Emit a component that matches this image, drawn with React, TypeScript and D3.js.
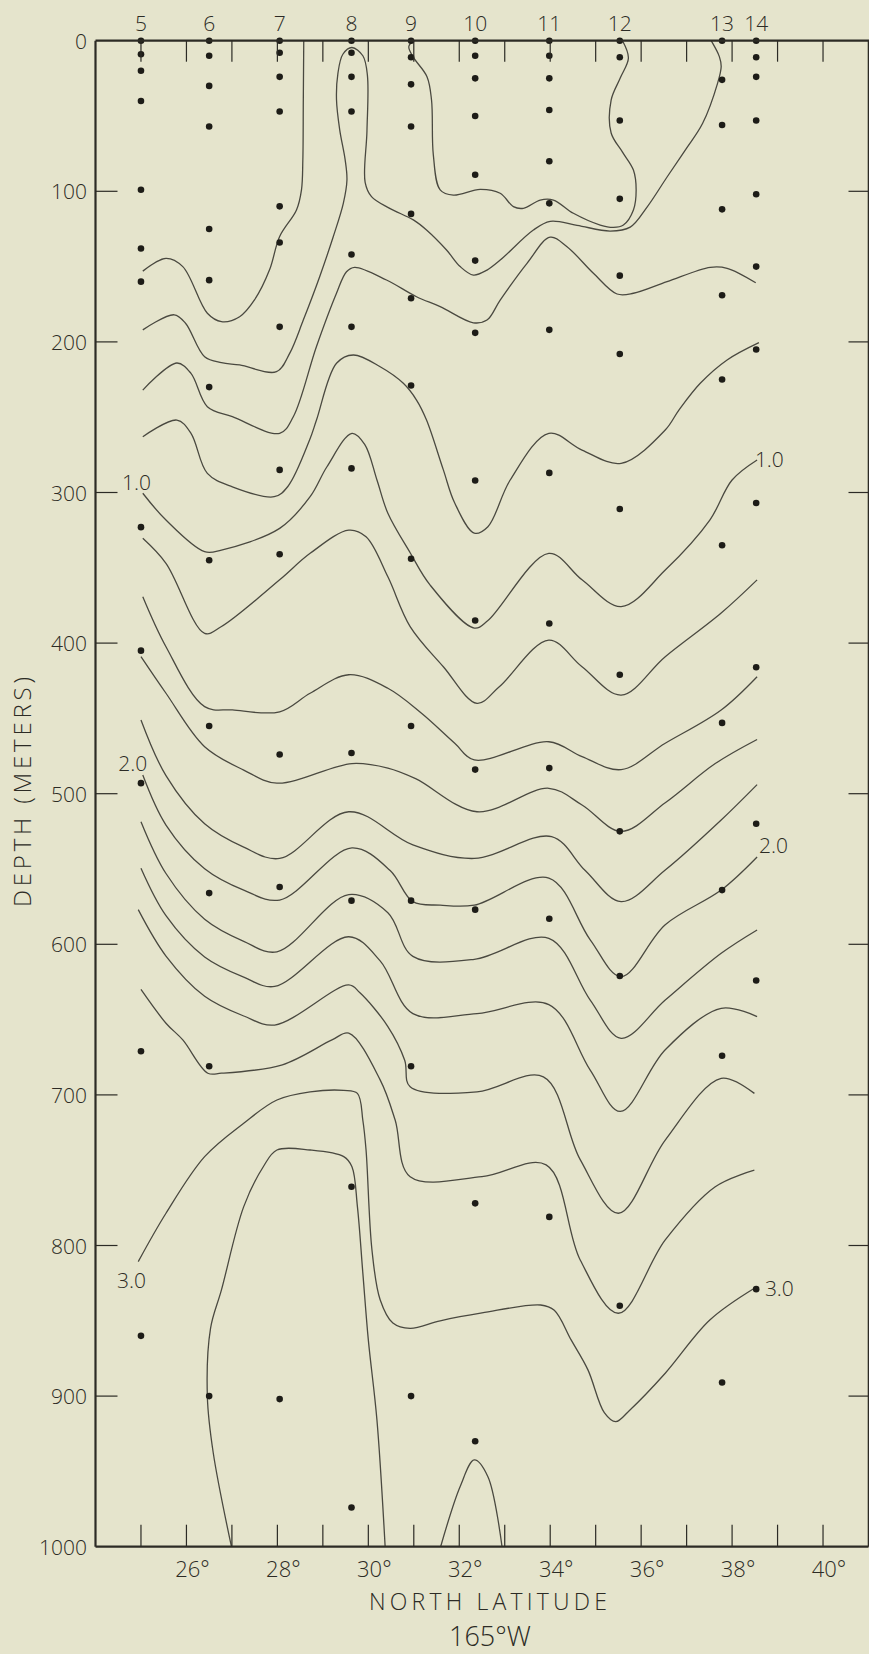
import React from 'react';
import * as d3 from 'd3';

const W = 869;
const H = 1654;

// Station numbers and their latitudes (deg N)
const stationNames = ['5', '6', '7', '8', '9', '10', '11', '12', '13', '14'];
const stationLat = [25.0, 26.5, 28.05, 29.63, 30.94, 32.35, 33.98, 35.53, 37.78, 38.53];
// Sample depths (m) at each station
const sampleDepths: number[][] = [
  [0, 9, 20, 40, 99, 138, 160, 323, 405, 493, 671, 860],
  [0, 10, 30, 57, 125, 159, 230, 345, 455, 566, 681, 900],
  [0, 8, 24, 47, 110, 134, 190, 285, 341, 474, 562, 902],
  [0, 8, 24, 47, 142, 190, 284, 473, 571, 761, 974],
  [0, 11, 29, 57, 115, 171, 229, 344, 455, 571, 681, 900],
  [0, 10, 25, 50, 89, 146, 194, 292, 385, 484, 577, 772, 930],
  [0, 10, 25, 46, 80, 108, 192, 287, 387, 483, 583, 781],
  [0, 11, 53, 105, 156, 208, 311, 421, 525, 621, 840],
  [0, 26, 56, 112, 169, 225, 335, 453, 564, 674, 891],
  [0, 11, 24, 53, 102, 150, 205, 307, 416, 520, 624, 829],
];

const depthTicks = [0, 100, 200, 300, 400, 500, 600, 700, 800, 900, 1000];
const latTicks = [25, 26, 27, 28, 29, 30, 31, 32, 33, 34, 35, 36, 37, 38, 39, 40];
const latLabels = [26, 28, 30, 32, 34, 36, 38, 40];

// Contours: [latitude, depth]
const contourA = [[25.04,153],[25.55,144.5],[25.92,150],[26.46,181],[26.77,186.6],[27.17,183.3],[27.5,172],[27.83,152],[28.05,130],[28.42,112.4],[28.53,99],[28.56,79],[28.57,40],[28.58,0]];
const contourB = [[25.04,192],[25.73,182],[25.98,187.6],[26.4,209.8],[26.77,213.8],[27.17,215.3],[27.98,219.8],[28.27,207.6],[28.57,185.5],[28.93,156.7],[29.23,130],[29.45,108],[29.53,92.5],[29.49,79],[29.37,59],[29.3,39],[29.33,22],[29.44,9],[29.64,4.5],[29.88,10],[29.98,23],[29.97,60],[29.93,94],[30.07,103.5],[30.47,111.3],[30.99,119],[31.28,125.7],[31.72,139],[32.02,150],[32.31,155.6],[32.61,152.3],[32.9,145.7],[33.63,125.7],[34.0,120],[34.59,122.6],[35.32,126.4],[35.76,123.8],[36.13,110.5],[36.57,90.5],[36.97,72.6],[37.35,55],[37.68,28.3],[37.76,17.3],[37.72,10.6],[37.54,0]];
const contourC = [[30.98,0],[30.89,4],[30.98,10.6],[31.29,23.9],[31.39,39.4],[31.43,76],[31.58,99],[31.87,102.5],[32.46,98.7],[32.9,101.3],[33.19,110.2],[33.41,111.3],[33.78,105.8],[34.07,105.8],[34.51,114.6],[35.1,122.4],[35.39,124],[35.61,122.4],[35.83,112.4],[35.89,99],[35.83,85.9],[35.59,74],[35.34,61.3],[35.34,39.4],[35.54,24.8],[35.72,11.5],[35.59,0]];
const contourD = [[25.04,232],[25.79,214],[26.1,220.9],[26.46,243],[27.01,249.6],[28.05,260.7],[28.35,249.7],[28.86,203],[29.3,167.7],[29.52,153.4],[29.7,150.5],[30.4,158.9],[31.06,170],[31.58,176.6],[32.31,187.3],[32.61,185.5],[32.9,172.2],[33.49,147.8],[34.0,130.5],[34.37,136.8],[34.95,154.4],[35.47,168.2],[35.83,167.7],[36.57,160],[37.52,150.5],[37.89,151.1],[38.52,160.7]];
const contourE = [[25.04,263],[25.79,251.9],[26.1,260.7],[26.46,287.3],[27.01,296.2],[27.93,302.8],[28.23,296],[28.71,265],[28.86,251.9],[29.3,214.2],[29.67,208.7],[30.26,216.5],[30.77,227.5],[31.06,238.6],[31.28,251.9],[31.65,285],[31.9,307],[32.33,327],[32.63,322.7],[33.12,291.7],[33.97,260.7],[34.7,271.8],[35.56,280.6],[36.53,258.5],[36.83,245.3],[37.3,227.5],[37.89,212],[38.59,200.5]];
const contourF = [[25.04,300.5],[25.55,318.3],[26.4,339.3],[26.77,338.2],[28.05,323.8],[28.72,302.8],[29.09,282.9],[29.64,260.7],[29.92,268],[30.19,291.7],[30.43,313.8],[30.92,340],[31.36,361.5],[32.33,390],[32.63,385],[33.97,340.4],[34.7,358],[35.56,375.8],[36.53,351.5],[37.51,318.3],[38.0,291.7],[38.55,278.4]];
const contourG = [[25.04,330.4],[25.55,347],[26.4,393.5],[26.77,389],[28.05,358],[28.72,340.4],[29.57,325],[29.95,329.4],[30.43,356],[30.92,389],[31.65,415.7],[32.39,440],[32.88,429],[33.97,398],[34.7,415.7],[35.56,434.5],[36.53,409],[37.76,380],[38.55,358]];
const contourH = [[25.04,369.2],[25.55,402.4],[26.4,442.2],[27.01,444.4],[28.05,445.6],[28.72,433.3],[29.57,421],[30.43,430],[31.17,446.6],[31.9,466.5],[32.33,477.6],[33.97,465.5],[34.7,475.4],[35.56,484],[36.53,466.5],[37.76,444.4],[38.55,422.3]];
const contourI = [[25.0,409],[25.55,433.3],[26.4,468.8],[27.26,484.3],[27.99,493],[29.64,480],[30.43,483],[31.04,490],[32.39,512],[33.97,496.4],[34.7,507.5],[35.56,525],[36.53,506],[37.63,480],[38.55,464]];
const contourJ = [[25.0,451],[25.55,488],[26.4,520],[27.26,535.5],[28.05,543],[29.57,512],[30.98,534],[32.33,543],[34.03,528.5],[34.77,551],[35.56,571.7],[36.53,550.7],[37.76,517.5],[38.55,494]];
const contourK = [[25.04,487.6],[25.55,520.8],[26.4,549.8],[27.26,564],[28.05,570.6],[29.64,536],[30.48,551],[30.98,571.7],[31.58,574],[32.33,574],[33.97,556],[34.88,597],[35.56,621.5],[36.53,587],[37.76,564],[38.55,542]];
const contourL = [[25.0,518.6],[25.55,553],[26.4,583.3],[27.26,598],[27.99,605],[29.57,567],[30.43,579],[30.98,608],[32.33,610],[33.97,596],[34.88,637],[35.56,662.4],[36.53,637],[37.76,606],[38.55,590.5]];
const contourM = [[25.0,549.5],[25.55,581],[26.4,608.4],[27.26,621.8],[27.94,628],[29.57,595],[30.26,611],[30.98,646],[32.39,646],[33.97,640],[34.88,683.5],[35.54,711],[36.53,670],[37.76,642.5],[38.55,648]];
const contourN = [[24.94,577],[25.55,607.8],[26.4,634.5],[27.26,647.6],[27.94,653.6],[29.57,627],[29.81,632],[30.43,654.6],[30.8,677],[30.92,694.6],[32.39,698],[33.85,688],[34.66,743],[35.5,778.6],[36.53,730],[37.76,689],[38.49,699]];
const contourO = [[25.0,630],[25.55,652.4],[25.92,663.5],[26.47,685.6],[26.77,685.6],[28.11,680],[29.2,663.5],[29.57,659],[30.26,690],[30.59,716.7],[30.92,754.3],[32.5,754.3],[33.91,746.5],[34.66,809.6],[35.5,845],[36.53,796.3],[37.63,761],[38.49,750]];
const contourP = [[24.94,810.7],[25.55,778.6],[26.4,741],[27.26,718.8],[27.99,703.4],[28.72,698],[29.46,697],[29.76,699],[29.88,717],[29.95,736.6],[30.08,803],[30.26,836],[30.54,851.5],[30.92,855],[31.58,850],[32.5,844.8],[33.79,839.5],[34.09,843],[34.46,862.7],[34.83,882.6],[35.19,911],[35.44,917],[35.76,909],[36.53,884.8],[37.51,849.5],[38.49,828.4]];
const contourR = [[26.99,1000],[26.59,937.8],[26.46,900.4],[26.53,855],[26.77,829.5],[27.26,774.2],[27.69,747.7],[27.99,736.6],[28.72,736.6],[29.46,741],[29.64,747.7],[29.76,774.2],[29.88,818.5],[30.0,862.7],[30.19,916],[30.37,1000]];
const contourS = [[31.59,1000],[32.02,960],[32.33,942.4],[32.63,953.5],[32.94,1000]];

const contours = [contourA, contourB, contourC, contourD, contourE, contourF, contourG, contourH, contourI, contourJ, contourK, contourL, contourM, contourN, contourO, contourP, contourR, contourS];

const labelTexts = ['1.0', '1.0', '2.0', '2.0', '3.0', '3.0'];
const labelLat = [24.9, 38.82, 24.82, 38.91, 24.79, 39.04];
const labelDepth = [292.7, 277.8, 479.3, 534.1, 822.9, 828.2];

const FONT = "'Open Sans', 'DejaVu Sans', sans-serif";
const INK = '#2c2b25';
const LINE = '#4a4940';

export default function App() {
  const x = d3.scaleLinear().domain([24, 41]).range([95.5, 868.5]);
  const y = d3.scaleLinear().domain([0, 1000]).range([40.7, 1546.7]);
  const line = d3
    .line<number[]>()
    .x((d) => x(d[0]))
    .y((d) => y(d[1]))
    .curve(d3.curveCatmullRom.alpha(0.5));

  const x0 = x(24);
  const x1 = x(41);
  const y0 = y(0);
  const y1 = y(1000);

  return (
    <svg
      width={W}
      height={H}
      style={{ position: 'absolute', left: 0, top: 0, display: 'block', background: '#e5e4cc' }}
    >
      <rect x={0} y={0} width={W} height={H} fill="#e5e4cc" />
      <defs>
        <clipPath id="plotClip">
          <rect x={x0} y={y0} width={x1 - x0} height={y1 - y0} />
        </clipPath>
      </defs>

      {/* contours */}
      <g clipPath="url(#plotClip)" fill="none" stroke={LINE} strokeWidth={1.3}>
        {contours.map((c, i) => (
          <path key={i} d={line(c) || ''} />
        ))}
      </g>

      {/* sample dots */}
      <g fill="#1d1c17">
        {stationLat.map((lat, i) =>
          sampleDepths[i].map((dep, j) => (
            <circle key={`${i}-${j}`} cx={x(lat)} cy={y(dep)} r={3.3} />
          ))
        )}
      </g>

      {/* axes */}
      <g stroke={INK} fill="none">
        <line x1={x0} y1={y0} x2={W} y2={y0} strokeWidth={2.2} />
        <line x1={x0} y1={y0} x2={x0} y2={y1} strokeWidth={2.2} />
        <line x1={x0} y1={y1} x2={x1} y2={y1} strokeWidth={2.2} />
        <line x1={x1} y1={y0} x2={x1} y2={y1} strokeWidth={1.6} />
        {latTicks.map((t) => (
          <g key={t}>
            <line x1={x(t)} y1={y0} x2={x(t)} y2={y0 + 21} strokeWidth={1.2} />
            <line x1={x(t)} y1={y1} x2={x(t)} y2={y1 - 22} strokeWidth={1.2} />
          </g>
        ))}
        {depthTicks.slice(1, -1).map((t) => (
          <g key={t}>
            <line x1={x0} y1={y(t)} x2={x0 + 22} y2={y(t)} strokeWidth={1.2} />
            <line x1={x1 - 20} y1={y(t)} x2={x1} y2={y(t)} strokeWidth={1.2} />
          </g>
        ))}
      </g>

      {/* texts */}
      <g fill={INK} fontFamily={FONT} fontWeight={300}>
        {depthTicks.map((t) => (
          <text key={t} x={87} y={y(t)} fontSize={21} textAnchor="end" dominantBaseline="central">
            {t}
          </text>
        ))}
        {stationNames.map((s, i) => (
          <text key={s} x={x(stationLat[i])} y={22.5} fontSize={21} textAnchor="middle" dominantBaseline="central">
            {s}
          </text>
        ))}
        {latLabels.map((t) => (
          <text key={t} x={x(t) + 6} y={1567.5} fontSize={22} textAnchor="middle" dominantBaseline="central">
            {`${t}°`}
          </text>
        ))}
        {labelTexts.map((s, i) => (
          <text key={i} x={x(labelLat[i])} y={y(labelDepth[i])} fontSize={21} textAnchor="middle" dominantBaseline="central">
            {s}
          </text>
        ))}
        <text x={488} y={1610} fontSize={23} textAnchor="middle" textLength={238} lengthAdjust="spacing">
          NORTH LATITUDE
        </text>
        <text x={490} y={1646} fontSize={27} textAnchor="middle">
          165°W
        </text>
        <text
          transform={`translate(21, 792) rotate(-90)`}
          fontSize={24}
          textAnchor="middle"
          dominantBaseline="central"
          textLength={230}
          lengthAdjust="spacing"
        >
          DEPTH (METERS)
        </text>
      </g>
    </svg>
  );
}
